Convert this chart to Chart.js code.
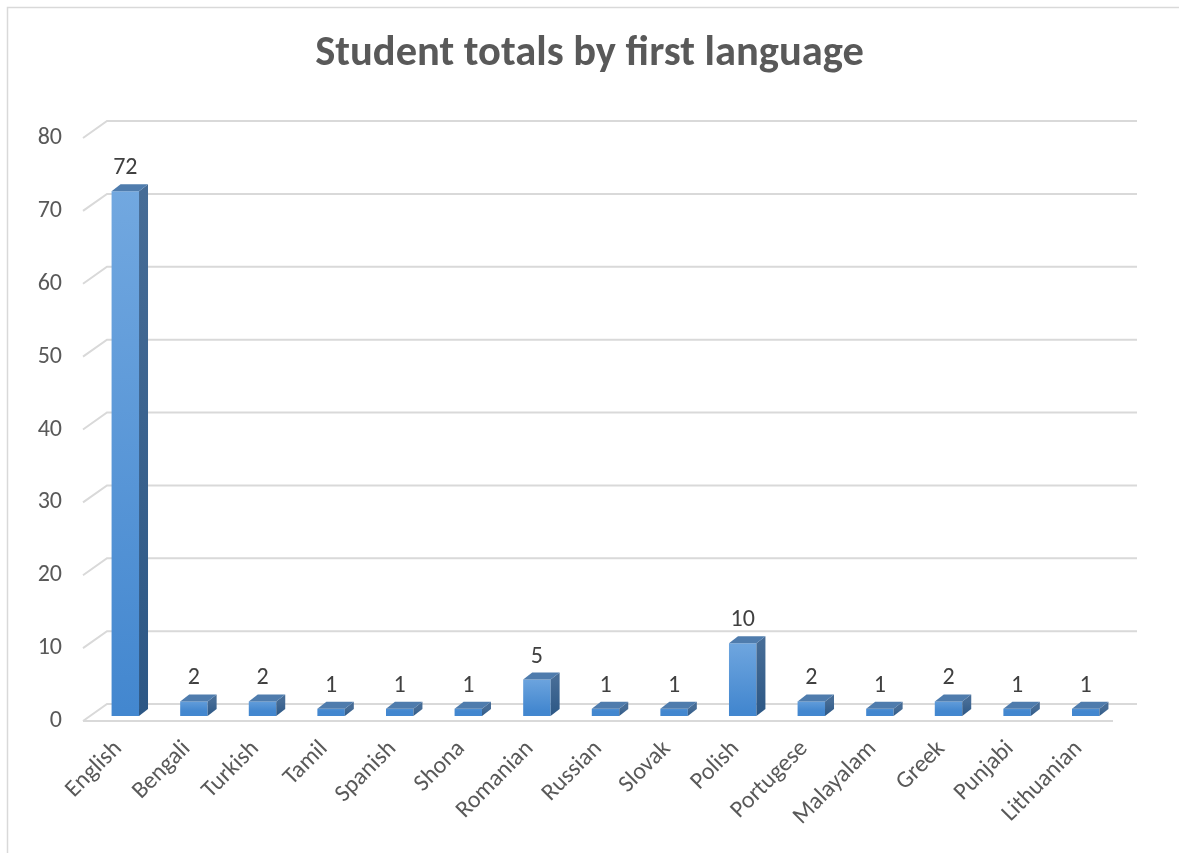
<!DOCTYPE html>
<html>
<head>
<meta charset="utf-8">
<script src="https://cdn.jsdelivr.net/npm/chart.js@4.4.1/dist/chart.umd.min.js"></script>
<style>
  html, body { margin: 0; padding: 0; background: #ffffff; }
  #wrap { width: 1179px; height: 853px; position: relative; }
</style>
</head>
<body>
<div id="wrap"><canvas id="c" width="1179" height="853"></canvas></div>
<script>
// ---- data ----
const categories = ["English", "Bengali", "Turkish", "Tamil", "Spanish", "Shona", "Romanian", "Russian", "Slovak", "Polish", "Portugese", "Malayalam", "Greek", "Punjabi", "Lithuanian"];
const studentTotals = [72, 2, 2, 1, 1, 1, 5, 1, 1, 10, 2, 1, 2, 1, 1];
const yTickValues = [0, 10, 20, 30, 40, 50, 60, 70, 80];
const chartTitle = "Student totals by first language";

// ---- style constants ----
const FONT = "Carlito, Lato, 'Liberation Sans', sans-serif";
const WALL_DX = 24, WALL_DY = -17;     // depth of back wall
const BAR_SHIFT_X = 7, BAR_SHIFT_Y = -5; // bar plane relative to front wall
const BAR_DX = 9, BAR_DY = -7;          // bar depth
const GRID = "#d9d9d9";

const threeD = {
  id: "threeD",
  beforeDraw(chart) {
    const ctx = chart.ctx;
    ctx.save();
    ctx.strokeStyle = GRID;
    ctx.lineWidth = 1.5;
    ctx.strokeRect(7.5, 7.5, chart.width + 10, chart.height + 10);
    ctx.restore();
  },
  beforeDatasetsDraw(chart) {
    const ctx = chart.ctx;
    const ya = chart.scales.y;
    const a = chart.chartArea;
    ctx.save();
    ctx.strokeStyle = GRID;
    ctx.lineWidth = 2;
    yTickValues.forEach(v => {
      const y = ya.getPixelForValue(v);
      ctx.beginPath();
      ctx.moveTo(a.left - 1, y);
      ctx.lineTo(a.left - 1 + WALL_DX, y + WALL_DY);
      ctx.lineTo(a.right + WALL_DX, y + WALL_DY);
      ctx.stroke();
    });
    const y0 = ya.getPixelForValue(0);
    ctx.beginPath();
    ctx.moveTo(a.left - 1, y0);
    ctx.lineTo(a.right, y0);
    ctx.stroke();
    ctx.restore();
    ctx.save();
    ctx.translate(BAR_SHIFT_X, BAR_SHIFT_Y);
  },
  afterDatasetsDraw(chart) {
    const ctx = chart.ctx;
    const meta = chart.getDatasetMeta(0);
    meta.data.forEach((bar, i) => {
      const p = bar.getProps(["x", "y", "base", "width"], true);
      const x1 = p.x - p.width / 2, x2 = p.x + p.width / 2;
      const yt = p.y, yb = p.base;
      // side face
      const gs = ctx.createLinearGradient(0, yt, 0, yb);
      gs.addColorStop(0, "#466c96");
      gs.addColorStop(1, "#2c5785");
      ctx.fillStyle = gs;
      ctx.beginPath();
      ctx.moveTo(x2, yt);
      ctx.lineTo(x2 + BAR_DX, yt + BAR_DY);
      ctx.lineTo(x2 + BAR_DX, yb + BAR_DY);
      ctx.lineTo(x2, yb);
      ctx.closePath();
      ctx.fill();
      // top face
      ctx.fillStyle = "#4f7cad";
      ctx.beginPath();
      ctx.moveTo(x1, yt);
      ctx.lineTo(x1 + BAR_DX, yt + BAR_DY);
      ctx.lineTo(x2 + BAR_DX, yt + BAR_DY);
      ctx.lineTo(x2, yt);
      ctx.closePath();
      ctx.fill();
      // value label
      ctx.fillStyle = "#404040";
      ctx.font = "24px " + FONT;
      ctx.textAlign = "center";
      ctx.textBaseline = "middle";
      ctx.fillText(String(studentTotals[i]), p.x, yt - 23);
    });
    ctx.restore();
  }
};

new Chart(document.getElementById("c"), {
  type: "bar",
  data: {
    labels: categories,
    datasets: [{
      data: studentTotals,
      barPercentage: 0.4,
      categoryPercentage: 1.0,
      borderWidth: 0,
      backgroundColor: (c) => {
        const ch = c.chart;
        if (!ch.chartArea || c.raw === undefined) return "#5b9bd5";
        const ys = ch.scales.y;
        const top = ys.getPixelForValue(c.raw) + BAR_SHIFT_Y;
        const bot = ys.getPixelForValue(0) + BAR_SHIFT_Y;
        const g = ch.ctx.createLinearGradient(0, top, 0, bot);
        g.addColorStop(0, "#72a8e0");
        g.addColorStop(1, "#4387cf");
        return g;
      }
    }]
  },
  options: {
    responsive: false,
    animation: false,
    events: [],
    layout: { padding: { left: 0, right: 0, top: 0, bottom: 0 } },
    plugins: {
      legend: { display: false },
      tooltip: { enabled: false },
      title: {
        display: true,
        text: chartTitle,
        color: "#595959",
        font: { family: FONT, size: 42.5, weight: "bold" },
        padding: { top: 29, bottom: 58 }
      }
    },
    scales: {
      x: {
        grid: { display: false, drawTicks: false },
        border: { display: false },
        ticks: {
          autoSkip: false,
          minRotation: 45,
          maxRotation: 45,
          padding: 14,
          color: "#595959",
          font: { family: FONT, size: 24 }
        },
        afterFit: (s) => { s.height = 132; }
      },
      y: {
        min: 0,
        max: 80,
        grid: { display: false, drawTicks: false },
        border: { display: false },
        ticks: {
          stepSize: 10,
          padding: 22,
          color: "#595959",
          font: { family: FONT, size: 24 }
        },
        afterFit: (s) => { s.width = 84; }
      },
      rightSpace: {
        type: "linear",
        position: "right",
        display: true,
        grid: { display: false, drawTicks: false },
        border: { display: false },
        ticks: { display: false },
        afterFit: (s) => { s.width = 66; }
      }
    }
  },
  plugins: [threeD]
});
</script>
</body>
</html>
